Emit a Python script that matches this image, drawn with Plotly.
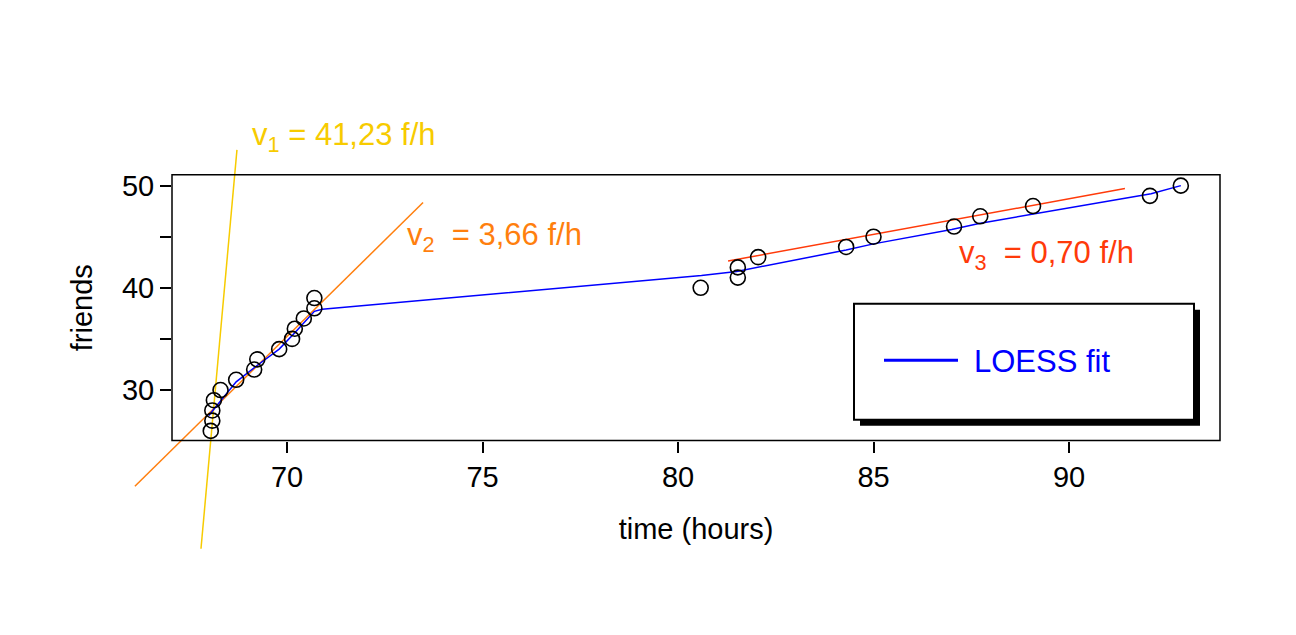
import plotly.graph_objects as go

W, H = 1296, 635

# observed points
time_h = [68.05, 68.09, 68.09, 68.13, 68.3, 68.7, 69.16, 69.24, 69.8, 70.13, 70.2, 70.43, 70.7, 70.7,
          80.58, 81.53, 81.53, 82.05, 84.3, 85.0, 87.06, 87.73, 89.08, 92.07, 92.86]
friends = [26, 27, 28, 29, 30, 31, 32, 33, 34, 35, 36, 37, 38, 39,
           40, 41, 42, 43, 44, 45, 46, 47, 48, 49, 50]

# LOESS curve
loess_x = [68.0, 68.7, 69.2, 69.8, 70.2, 70.7, 70.9, 80.6, 81.5, 84.3, 85.0, 87.0, 87.7, 89.1, 92.1, 92.86]
loess_y = [27.5, 30.8, 32.3, 34.0, 35.6, 37.7, 37.9, 41.2, 41.6, 43.7, 44.3, 45.7, 46.3, 47.2, 49.2, 50.0]

# fitted velocity lines (end points)
v1_x, v1_y = [67.80, 68.72], [14.47, 53.5]
v2_x, v2_y = [66.11, 73.48], [20.58, 48.35]
v3_x, v3_y = [81.28, 91.43], [42.62, 49.71]

x_ticks = [70, 75, 80, 85, 90]
y_ticks = [30, 35, 40, 45, 50]
y_labels = ["30", "", "40", "", "50"]

GOLD = "#F7CB00"
ORANGE = "#FF7F0E"
RED = "#FF3A0A"
FONT = "Liberation Sans, Arial"

# pixel -> data mapping of the full-page axis (so fitted lines can run outside the box)
px_per_x, px_per_y = 39.1, 10.3
full_x = [70 - 279 / px_per_x, 70 + (W - 279) / px_per_x]
full_y = [30 - (H - 380) / px_per_y, 30 + 380 / px_per_y]
box_l, box_r, box_t, box_b = 164, 1212, 163, 431
box_x = [70 + (box_l - 279) / px_per_x, 70 + (box_r - 279) / px_per_x]
box_y = [30 - (box_b - 380) / px_per_y, 30 + (380 - box_t) / px_per_y]

fig = go.Figure()
# invisible trace to show the boxed axes
fig.add_trace(go.Scatter(x=box_x, y=box_y, mode="markers", marker=dict(opacity=0),
                         xaxis="x2", yaxis="y2", hoverinfo="skip"))
fig.add_trace(go.Scatter(x=v1_x, y=v1_y, mode="lines", line=dict(color=GOLD, width=1.5)))
fig.add_trace(go.Scatter(x=v2_x, y=v2_y, mode="lines", line=dict(color=ORANGE, width=1.5)))
fig.add_trace(go.Scatter(x=v3_x, y=v3_y, mode="lines", line=dict(color=RED, width=1.5)))
fig.add_trace(go.Scatter(x=loess_x, y=loess_y, mode="lines", line=dict(color="blue", width=1.5)))
fig.add_trace(go.Scatter(x=time_h, y=friends, mode="markers",
                         marker=dict(symbol="circle-open", size=15, color="black", line=dict(width=1.6))))

tickfont = dict(family=FONT, size=29, color="black")
fig.update_layout(
    width=W, height=H, showlegend=False,
    margin=dict(l=0, r=0, t=0, b=0),
    paper_bgcolor="white", plot_bgcolor="rgba(0,0,0,0)",
    font=dict(family=FONT, size=29, color="black"),
    xaxis=dict(domain=[0, 1], range=full_x, visible=False),
    yaxis=dict(domain=[0, 1], range=full_y, visible=False),
    xaxis2=dict(domain=[box_l / W, box_r / W], range=box_x, anchor="y2",
                tickvals=x_ticks, ticks="outside", ticklen=11, tickwidth=1.5, tickcolor="black",
                tickfont=tickfont, showgrid=False, zeroline=False,
                title=dict(text="time (hours)", standoff=26, font=tickfont)),
    yaxis2=dict(domain=[1 - box_b / H, 1 - box_t / H], range=box_y, anchor="x2",
                tickvals=y_ticks, ticktext=y_labels, ticks="outside", ticklen=11, tickwidth=1.5,
                tickcolor="black", tickfont=tickfont, showgrid=False, zeroline=False,
                title=dict(text="friends", standoff=20, font=tickfont)),
)

shapes = [
    dict(type="rect", xref="paper", yref="paper", x0=box_l / W, x1=box_r / W,
         y0=1 - box_b / H, y1=1 - box_t / H, line=dict(color="black", width=1.5)),
    # legend shadow + box
    dict(type="rect", xref="paper", yref="paper", x0=852 / W, x1=1192 / W,
         y0=1 - 416 / H, y1=1 - 299 / H, fillcolor="black", line=dict(width=0)),
    dict(type="rect", xref="paper", yref="paper", x0=846 / W, x1=1186 / W,
         y0=1 - 410 / H, y1=1 - 293 / H, fillcolor="white", line=dict(color="black", width=2)),
    dict(type="line", xref="paper", yref="paper", x0=876 / W, x1=950 / W,
         y0=1 - 350 / H, y1=1 - 350 / H, line=dict(color="blue", width=3)),
]
fig.update_layout(shapes=shapes)

def note(text, px, py, color):
    fig.add_annotation(text=text, xref="paper", yref="paper", x=px / W, y=1 - py / H,
                       xanchor="left", yanchor="middle", showarrow=False,
                       font=dict(family=FONT, size=31, color=color))

note("v<sub>1</sub> = 41,23 f/h", 242, 125, GOLD)
note("v<sub>2</sub>  = 3,66 f/h", 397, 226, ORANGE)
note("v<sub>3</sub>  = 0,70 f/h", 949, 244, RED)
note("LOESS fit", 964, 351, "blue")

fig.write_html("out.html")
